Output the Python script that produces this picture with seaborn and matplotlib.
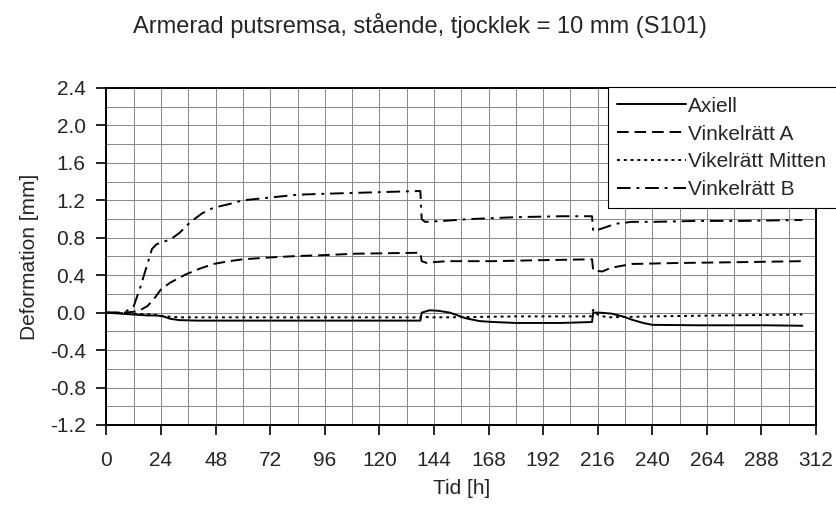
import seaborn as sns
import matplotlib.pyplot as plt
import pandas as pd
from matplotlib.ticker import MultipleLocator

sns.set_theme(style="ticks")
plt.rcParams['font.family'] = ['Liberation Sans', 'DejaVu Sans']

# data (time in hours, deformation in mm)
t_axiell = [0, 12, 18, 22, 25, 28, 32, 40, 80, 120, 138, 138.6, 142, 146, 151, 158, 164,
            170, 180, 200, 213.5, 214, 217, 222, 227, 231, 236, 240, 260, 290, 306]
axiell = [0, -0.02, -0.03, -0.03, -0.04, -0.065, -0.08, -0.085, -0.085, -0.085, -0.085, 0.0,
          0.025, 0.02, 0.0, -0.06, -0.09, -0.10, -0.11, -0.11, -0.10, 0.0, 0.0, -0.01, -0.04,
          -0.075, -0.11, -0.13, -0.135, -0.135, -0.14]

t_a = [0, 8, 12, 15, 18, 21, 24, 28, 35, 41, 47, 54, 60, 72, 84, 96, 110, 124, 138, 138.6,
       141, 144, 150, 170, 190, 213.5, 214, 218, 222, 231, 250, 280, 306]
vink_a = [0, 0, 0.01, 0.03, 0.07, 0.15, 0.25, 0.32, 0.41, 0.47, 0.52, 0.55, 0.57, 0.59, 0.605,
          0.615, 0.63, 0.635, 0.64, 0.55, 0.53, 0.54, 0.55, 0.55, 0.56, 0.57, 0.45, 0.44,
          0.48, 0.52, 0.53, 0.54, 0.55]

t_m = [0, 12, 20, 26, 32, 60, 100, 138, 138.6, 142, 150, 180, 213, 214, 216, 220, 240, 270, 306]
mitten = [0, -0.01, -0.02, -0.04, -0.05, -0.05, -0.05, -0.05, -0.04, -0.05, -0.05, -0.04,
          -0.04, 0.03, -0.02, -0.05, -0.04, -0.03, -0.02]

t_b = [0, 6, 9, 12, 15, 18, 20, 22, 24, 28, 32, 37, 42, 47, 54, 60, 72, 84, 96, 110, 124,
       138, 138.6, 140, 148, 160, 180, 200, 213.5, 214, 218, 224, 231, 240, 260, 280, 306]
vink_b = [0, 0, 0.02, 0.07, 0.28, 0.52, 0.68, 0.73, 0.75, 0.78, 0.85, 0.97, 1.06, 1.12, 1.16,
          1.2, 1.23, 1.26, 1.27, 1.28, 1.29, 1.30, 1.0, 0.97, 0.98, 1.0, 1.02, 1.03, 1.03,
          0.87, 0.9, 0.95, 0.97, 0.97, 0.98, 0.98, 0.99]

series = [
    ("Axiell", t_axiell, axiell, "-"),
    ("Vinkelrätt A", t_a, vink_a, (0, (6, 3))),
    ("Vikelrätt Mitten", t_m, mitten, (0, (1.5, 2))),
    ("Vinkelrätt B", t_b, vink_b, (0, (7, 3, 1.5, 3))),
]

fig = plt.figure(figsize=(8.37, 5.08), dpi=100)
ax = fig.add_axes([0.1272, 0.1634, 0.975 - 0.1272, 0.8268 - 0.1634])

for name, t, y, ls in series:
    df = pd.DataFrame({"t": t, "y": y})
    sns.lineplot(data=df, x="t", y="y", ax=ax, color="black", lw=1.4,
                 linestyle=ls, estimator=None, sort=False, label=name)

ax.set_xlim(0, 312)
ax.set_ylim(-1.2, 2.4)
ax.xaxis.set_major_locator(MultipleLocator(24))
ax.xaxis.set_minor_locator(MultipleLocator(12))
ax.yaxis.set_major_locator(MultipleLocator(0.4))
ax.yaxis.set_minor_locator(MultipleLocator(0.2))
ax.yaxis.set_major_formatter(plt.FuncFormatter(lambda v, p: f"{v:.1f}"))
ax.grid(which="both", color="#888888", lw=0.7)
ax.tick_params(which="major", direction="out", length=7, width=1.2, labelsize=15, color="black")
ax.tick_params(axis="x", which="major", pad=12)
ax.tick_params(axis="y", which="major", pad=8)
ax.tick_params(which="minor", length=0)
for s in ax.spines.values():
    s.set_color("black")
    s.set_linewidth(1.4)

ax.set_xlabel("Tid [h]", fontsize=15, labelpad=6)
ax.set_ylabel("Deformation [mm]", fontsize=15, labelpad=8)
fig.text(0.502, 0.95, "Armerad putsremsa, stående, tjocklek = 10 mm (S101)",
         ha="center", va="center", fontsize=17)

leg = ax.legend(loc="upper left", bbox_to_anchor=(0.726, 0.606, 0.28, 0.222),
                bbox_transform=fig.transFigure, mode="expand", alignment="right",
                borderaxespad=0, fontsize=15, handlelength=3.3, handletextpad=0.1,
                labelspacing=0.42, borderpad=0.45, fancybox=False, framealpha=1,
                edgecolor="black")
leg.get_frame().set_linewidth(0.8)

fig.savefig("out.png", dpi=100)
